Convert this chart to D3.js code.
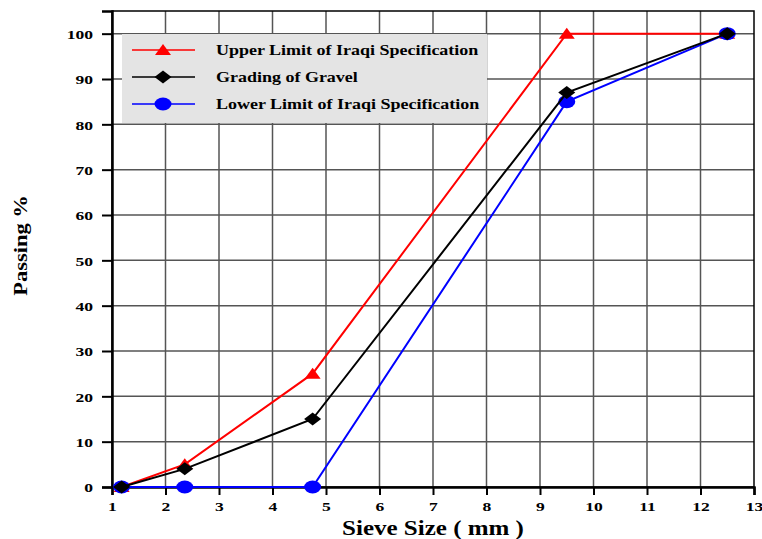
<!DOCTYPE html>
<html><head><meta charset="utf-8">
<script src="https://cdn.jsdelivr.net/npm/d3@7"></script>
<style>body{margin:0;background:#fff}svg{display:block}</style>
</head><body>
<svg id="c" width="762" height="539"></svg>
<script>
const sieve = [1.18, 2.36, 4.75, 9.5, 12.5];
const upper = [0, 5, 25, 100, 100];
const gravel = [0, 4, 15, 87, 100];
const lower = [0, 0, 0, 85, 100];
const xTicks = [1,2,3,4,5,6,7,8,9,10,11,12,13];
const yTicks = [0,10,20,30,40,50,60,70,80,90,100];
const seriesNames = ["Upper Limit of Iraqi Specification","Grading of Gravel","Lower Limit of Iraqi Specification"];

const svg = d3.select("#c");
const L=112, R=754, T=11, B=487;
const x = d3.scaleLinear().domain([1,13]).range([L,R]);
const y = d3.scaleLinear().domain([0,105]).range([B,T]);
const font = "'Liberation Serif','Times New Roman',serif";

// grid
const g = svg.append("g");
g.selectAll("line.vx").data(xTicks.slice(1,-1)).enter().append("line")
  .attr("x1",d=>x(d)).attr("x2",d=>x(d)).attr("y1",T).attr("y2",B)
  .attr("stroke","#555").attr("stroke-width",1.5);
g.selectAll("line.hy").data(yTicks.slice(1)).enter().append("line")
  .attr("y1",d=>y(d)).attr("y2",d=>y(d)).attr("x1",L).attr("x2",R)
  .attr("stroke","#555").attr("stroke-width",1.5);

// frame
svg.append("rect").attr("x",L).attr("y",T).attr("width",R-L).attr("height",B-T)
  .attr("fill","none").attr("stroke","#000").attr("stroke-width",1.5);

// axes
const xAxis = svg.append("g").attr("transform",`translate(0,${B})`)
  .call(d3.axisBottom(x).tickValues(xTicks).tickSize(8).tickPadding(6).tickFormat(d3.format("d")));
const yAxis = svg.append("g").attr("transform",`translate(${L},0)`)
  .call(d3.axisLeft(y).tickValues(yTicks).tickSize(10).tickPadding(9).tickFormat(d3.format("d")));
[xAxis,yAxis].forEach(a=>{
  a.select(".domain").attr("stroke","#000").attr("stroke-width",2.5);
  a.selectAll(".tick line").attr("stroke","#000").attr("stroke-width",2);
  a.selectAll(".tick text").attr("font-family",font).attr("font-weight","bold").attr("font-size",13.5).attr("fill","#000");
});
const SX = 1.3;
xAxis.selectAll(".tick text").attr("transform",`scale(${SX},1)`);
yAxis.selectAll(".tick text").each(function(){
  const t = d3.select(this); const xx = +t.attr("x");
  t.attr("x",0).attr("dy","0.35em").attr("transform",`translate(${xx},0) scale(${SX},1)`);
});

// titles
svg.append("text").attr("transform","translate(433,535) scale(1.25,1)").attr("text-anchor","middle")
  .attr("font-family",font).attr("font-weight","bold").attr("font-size",20).text("Sieve Size ( mm )");
svg.append("text").attr("transform","translate(27,245.5) rotate(-90) scale(1.25,1)").attr("text-anchor","middle")
  .attr("font-family",font).attr("font-weight","bold").attr("font-size",18).text("Passing %");

// legend
const leg = svg.append("g");
leg.append("rect").attr("x",122).attr("y",34).attr("width",365).attr("height",89).attr("fill","#e4e4e4");

const series = [
  {name:seriesNames[0], vals:upper, color:"#ff0000", sym:"tri"},
  {name:seriesNames[2], vals:lower, color:"#0000ff", sym:"circ"},
  {name:seriesNames[1], vals:gravel, color:"#000000", sym:"dia"},
];
const line = d3.line().x((d,i)=>x(sieve[i])).y(d=>y(d));
function marker(sel, s, cx, cy){
  if(s.sym==="circ"){
    sel.append("ellipse").attr("cx",cx).attr("cy",cy).attr("rx",8.5).attr("ry",6.5).attr("fill",s.color);
  } else if(s.sym==="dia"){
    sel.append("path").attr("d",`M${cx-8.5},${cy}L${cx},${cy-6.5}L${cx+8.5},${cy}L${cx},${cy+6.5}Z`).attr("fill",s.color);
  } else {
    sel.append("path").attr("d",`M${cx-8},${cy+5}L${cx},${cy-6}L${cx+8},${cy+5}Z`).attr("fill",s.color);
  }
}
series.forEach(s=>{
  const gg = svg.append("g");
  gg.append("path").datum(s.vals).attr("d",line).attr("fill","none").attr("stroke",s.color).attr("stroke-width",2);
  s.vals.forEach((v,i)=>marker(gg,s,x(sieve[i]),y(v)));
});

const legRows = [series[0], series[2], series[1]];
legRows.forEach((s,i)=>{
  const yy = 50 + i*27;
  leg.append("line").attr("x1",132).attr("x2",195).attr("y1",yy).attr("y2",yy).attr("stroke",s.color).attr("stroke-width",1.5);
  marker(leg,s,163,yy);
  leg.append("text").attr("transform",`translate(216,${yy}) scale(1.2,1)`).attr("dy","0.35em")
    .attr("font-family",font).attr("font-weight","bold").attr("font-size",15).text(s.name);
});
</script>
</body></html>
